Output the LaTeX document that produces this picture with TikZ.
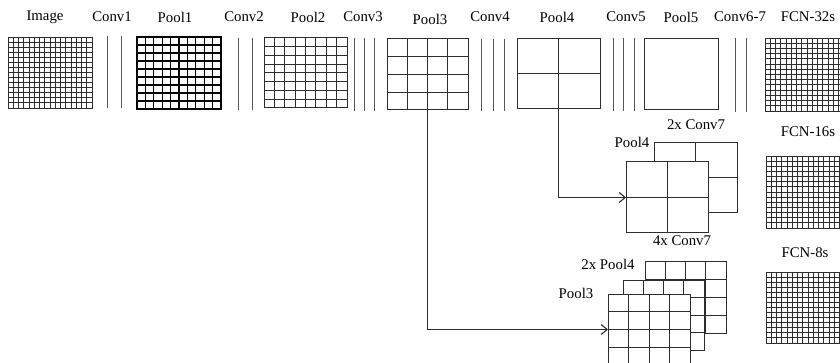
\documentclass[tikz,border=0pt]{standalone}
\usepackage{fontspec}
\setmainfont{Liberation Serif}
\usetikzlibrary{arrows.meta}
\definecolor{gridc}{RGB}{45,45,45}
\definecolor{convc}{RGB}{85,85,85}
\tikzset{
  box/.style={draw=gridc, line width=1pt, fill=white, inner sep=0pt, outer sep=0pt, rectangle},
  gl/.style={draw=gridc, line width=1pt},
  cl/.style={draw=convc, line width=0.9pt},
  lab/.style={font=\fontsize{14.8}{16}\selectfont, inner sep=0pt, text=black},
  arr/.style={draw=gridc, line width=1.1pt, -{Straight Barb[length=6pt, width=10pt, line width=1.1pt]}}
}
% #1 name, #2 x, #3 y, #4 w, #5 h, #6 cols, #7 rows, #8 extra style
\newcommand\gridbox[8]{%
  \node[box,#8, minimum width=#4pt, minimum height=#5pt, anchor=north west] (#1) at (#2,#3) {};
  \ifnum#6>1 \foreach \i in {1,...,\the\numexpr#6-1\relax} {\draw[gl,#8] ({#2+\i*#4/#6},#3) -- ++(0,#5);}\fi
  \ifnum#7>1 \foreach \j in {1,...,\the\numexpr#7-1\relax} {\draw[gl,#8] (#2,{#3+\j*#5/#7}) -- ++(#4,0);}\fi
}
\begin{document}
\begin{tikzpicture}[x=1pt,y=-1pt]
\useasboundingbox (0,0) rectangle (840,363);
\clip (0,0) rectangle (840,363);
% top labels
\node[lab] (limage) at (45,17) {Image};
\node[lab] (lconv1) at (112,17) {Conv1};
\node[lab] (lpool1) at (175,17) {Pool1};
\node[lab] (lconv2) at (244,17) {Conv2};
\node[lab] (lpool2) at (308,17) {Pool2};
\node[lab] (lconv3) at (363,17) {Conv3};
\node[lab] (lpool3) at (430,19) {Pool3};
\node[lab] (lconv4) at (490,17) {Conv4};
\node[lab] (lpool4) at (557,17) {Pool4};
\node[lab] (lconv5) at (626,17) {Conv5};
\node[lab] (lpool5) at (681,17) {Pool5};
\node[lab] (lconv67) at (740,17) {Conv6-7};
\node[lab] (lfcn32) at (808,17) {FCN-32s};
% top row grids
\gridbox{image}{8}{37}{84}{71}{16}{14}{line width=0.9pt}
\gridbox{pool1}{137}{37}{84}{72}{10}{9}{line width=1.3pt, draw=black}
\gridbox{pool2}{264}{38}{83}{70}{8}{8}{}
\gridbox{pool3}{387}{39}{81}{71}{4}{4}{}
\gridbox{pool4}{517}{39}{83}{70}{2}{2}{}
\gridbox{pool5}{644}{39}{74}{71}{1}{1}{}
\gridbox{fcn32}{765}{38}{84}{73}{16}{14}{line width=0.9pt}
% conv layers
\draw[cl] (107,36) -- (107,108);
\draw[cl] (121,36) -- (121,108);
\draw[cl] (238,38) -- (238,110);
\draw[cl] (252,38) -- (252,110);
\draw[cl] (354,38) -- (354,111);
\draw[cl] (364,38) -- (364,111);
\draw[cl] (374,38) -- (374,111);
\draw[cl] (481,39) -- (481,111);
\draw[cl] (493,39) -- (493,111);
\draw[cl] (504,39) -- (504,111);
\draw[cl] (613,38) -- (613,111);
\draw[cl] (623,38) -- (623,111);
\draw[cl] (634,38) -- (634,111);
\draw[cl] (735,38) -- (735,112);
\draw[cl] (746,38) -- (746,112);
% FCN-16s branch
\node[lab] (l2xc7) at (696,125) {2x Conv7};
\node[lab] (lp4s) at (632,142) {Pool4};
\node[lab] (lfcn16) at (808,132) {FCN-16s};
\gridbox{c7x2}{654}{143}{83}{70}{2}{2}{}
\gridbox{p4s}{626}{162}{82}{71}{2}{2}{}
\gridbox{fcn16}{766}{156}{84}{72}{16}{14}{line width=0.9pt}
\draw[arr] (pool4.south) |- (p4s.west);
% FCN-8s branch
\node[lab] (l4xc7) at (682,241) {4x Conv7};
\node[lab] (lfcn8) at (805,253) {FCN-8s};
\node[lab] (l2xp4) at (608,264) {2x Pool4};
\node[lab] (lp3s) at (576,293) {Pool3};
\gridbox{c7x4}{645}{262}{81}{71}{4}{4}{}
\gridbox{p4x2}{623}{280}{81}{70}{4}{4}{}
\gridbox{p3s}{608}{294}{82}{71}{4}{4}{}
\gridbox{fcn8}{766}{272}{84}{71}{16}{14}{line width=0.9pt}
\draw[arr] (pool3.south) |- (p3s.west);
\end{tikzpicture}
\end{document}
